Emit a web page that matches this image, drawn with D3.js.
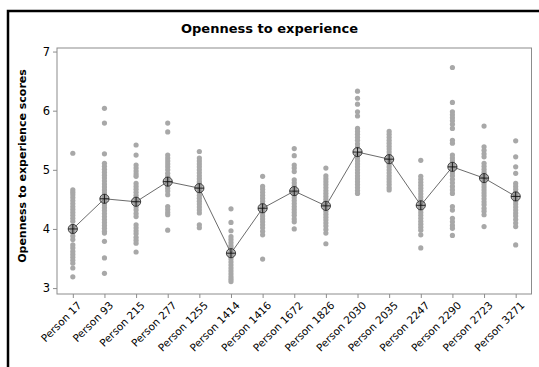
<!DOCTYPE html>
<html>
<head>
<meta charset="utf-8">
<script src="https://cdn.jsdelivr.net/npm/d3@7"></script>
<style>
  html, body { margin: 0; padding: 0; background: #fff; }
  svg { display: block; }
</style>
</head>
<body>
<svg id="chart" width="539" height="367"></svg>
<script>
// Individual openness scores per person, plus each person's mean
const persons = ["Person 17", "Person 93", "Person 215", "Person 277", "Person 1255",
  "Person 1414", "Person 1416", "Person 1672", "Person 1826", "Person 2030",
  "Person 2035", "Person 2247", "Person 2290", "Person 2723", "Person 3271"];

const scoresP17 = [5.28, 4.66, 4.62, 4.58, 4.53, 4.48, 4.43, 4.38, 4.33, 4.28, 4.23, 4.18, 4.13, 4.04, 3.99, 3.94, 3.88, 3.82, 3.73, 3.68, 3.62, 3.57, 3.52, 3.47, 3.42, 3.34, 3.19];
const scoresP93 = [6.04, 5.79, 5.27, 5.11, 5.06, 5.01, 4.96, 4.91, 4.86, 4.81, 4.76, 4.71, 4.66, 4.61, 4.56, 4.51, 4.46, 4.41, 4.36, 4.31, 4.26, 4.21, 4.16, 4.11, 4.06, 4.01, 3.96, 3.93, 3.79, 3.51, 3.25];
const scoresP215 = [5.42, 5.25, 5.08, 5.03, 4.98, 4.93, 4.89, 4.77, 4.72, 4.67, 4.62, 4.57, 4.52, 4.47, 4.42, 4.37, 4.32, 4.26, 4.21, 4.07, 4.02, 3.97, 3.92, 3.86, 3.81, 3.76, 3.61];
const scoresP277 = [5.79, 5.64, 5.25, 5.20, 5.15, 5.10, 5.05, 5.00, 4.94, 4.89, 4.84, 4.79, 4.74, 4.69, 4.64, 4.58, 4.38, 4.33, 4.28, 4.24, 3.98];
const scoresP1255 = [5.31, 5.20, 5.15, 5.10, 5.05, 5.00, 4.95, 4.90, 4.85, 4.80, 4.77, 4.72, 4.67, 4.62, 4.57, 4.52, 4.47, 4.42, 4.37, 4.32, 4.27, 4.07, 4.02];
const scoresP1414 = [4.34, 4.11, 3.97, 3.87, 3.82, 3.77, 3.72, 3.68, 3.59, 3.54, 3.49, 3.44, 3.39, 3.34, 3.29, 3.24, 3.19, 3.15, 3.11];
const scoresP1416 = [4.89, 4.72, 4.67, 4.62, 4.57, 4.52, 4.47, 4.42, 4.37, 4.32, 4.27, 4.22, 4.17, 4.12, 4.07, 4.02, 3.96, 3.90, 3.49];
const scoresP1672 = [5.36, 5.24, 5.08, 5.03, 4.97, 4.83, 4.78, 4.73, 4.68, 4.63, 4.58, 4.53, 4.48, 4.43, 4.38, 4.33, 4.28, 4.23, 4.17, 4.12, 4.00];
const scoresP1826 = [5.03, 4.90, 4.85, 4.80, 4.75, 4.70, 4.65, 4.60, 4.55, 4.50, 4.45, 4.40, 4.35, 4.30, 4.25, 4.20, 4.15, 4.10, 4.05, 3.99, 3.93, 3.75];
const scoresP2030 = [6.33, 6.21, 6.11, 5.98, 5.91, 5.70, 5.65, 5.60, 5.55, 5.50, 5.44, 5.39, 5.25, 5.20, 5.15, 5.10, 5.05, 5.00, 4.95, 4.90, 4.85, 4.80, 4.75, 4.70, 4.65, 4.60];
const scoresP2035 = [5.65, 5.60, 5.55, 5.50, 5.45, 5.40, 5.35, 5.30, 5.25, 5.20, 5.15, 5.10, 5.05, 5.00, 4.95, 4.90, 4.85, 4.80, 4.75, 4.70, 4.66];
const scoresP2247 = [5.16, 4.89, 4.84, 4.79, 4.74, 4.69, 4.64, 4.59, 4.54, 4.49, 4.44, 4.38, 4.33, 4.28, 4.23, 4.18, 4.13, 4.08, 4.03, 3.98, 3.90, 3.68];
const scoresP2290 = [6.73, 6.14, 5.98, 5.93, 5.88, 5.83, 5.77, 5.70, 5.50, 5.45, 5.25, 5.20, 5.15, 5.10, 5.05, 5.00, 4.95, 4.90, 4.84, 4.78, 4.72, 4.66, 4.60, 4.38, 4.32, 4.18, 4.12, 4.06, 4.01, 3.89];
const scoresP2723 = [5.74, 5.39, 5.33, 5.27, 5.22, 5.11, 5.06, 5.01, 4.96, 4.91, 4.86, 4.81, 4.76, 4.71, 4.66, 4.61, 4.56, 4.51, 4.46, 4.41, 4.35, 4.30, 4.24, 4.04];
const scoresP3271 = [5.49, 5.22, 5.05, 4.94, 4.77, 4.72, 4.67, 4.62, 4.57, 4.52, 4.47, 4.42, 4.37, 4.32, 4.27, 4.22, 4.16, 4.10, 4.04, 3.73];

const means = [4.00, 4.51, 4.46, 4.80, 4.69, 3.59, 4.35, 4.64, 4.39, 5.30, 5.18, 4.40, 5.05, 4.86, 4.55];
const yTicks = [3, 4, 5, 6, 7];

const scoreLists = [scoresP17, scoresP93, scoresP215, scoresP277, scoresP1255, scoresP1414,
  scoresP1416, scoresP1672, scoresP1826, scoresP2030, scoresP2035, scoresP2247,
  scoresP2290, scoresP2723, scoresP3271];

const svg = d3.select("#chart");
const font = "'DejaVu Sans', Verdana, sans-serif";

// Plot frame
const plot = { left: 57, right: 531.5, top: 48, bottom: 294 };

const x = d3.scalePoint().domain(persons).range([plot.left, plot.right]).padding(0.5);
const y = d3.scaleLinear().domain([2.9, 7.06]).range([plot.bottom, plot.top]);

// Outer black frame (runs off the right and bottom edges)
svg.append("rect")
  .attr("x", 8).attr("y", 11)
  .attr("width", 560).attr("height", 380)
  .attr("fill", "none").attr("stroke", "#000").attr("stroke-width", 2.5);

// Title
svg.append("text")
  .attr("x", 269.5).attr("y", 33)
  .attr("text-anchor", "middle")
  .attr("font-family", font).attr("font-weight", "bold").attr("font-size", 13)
  .text("Openness to experience");

// Plot border
svg.append("rect")
  .attr("x", plot.left).attr("y", plot.top)
  .attr("width", plot.right - plot.left).attr("height", plot.bottom - plot.top)
  .attr("fill", "none").attr("stroke", "#8c8c8c").attr("stroke-width", 1);

// Y axis
const yAxis = svg.append("g")
  .attr("transform", `translate(${plot.left},0)`)
  .call(d3.axisLeft(y).tickValues(yTicks).tickSize(4).tickPadding(3).tickFormat(d3.format("d")));
yAxis.select(".domain").remove();
yAxis.selectAll("line").attr("stroke", "#8c8c8c");
yAxis.selectAll("text").attr("font-family", font).attr("font-size", 11.5).attr("fill", "#000");

// X axis
const xAxis = svg.append("g")
  .attr("transform", `translate(0,${plot.bottom})`)
  .call(d3.axisBottom(x).tickSize(4));
xAxis.select(".domain").remove();
xAxis.selectAll("line").attr("stroke", "#8c8c8c");
xAxis.selectAll("text")
  .attr("font-family", font).attr("font-size", 10.5).attr("fill", "#000")
  .attr("text-anchor", "end")
  .attr("dy", null)
  .attr("transform", "translate(4,7) rotate(-45)");

// Y axis title
svg.append("text")
  .attr("transform", `translate(26,166) rotate(-90)`)
  .attr("text-anchor", "middle")
  .attr("font-family", font).attr("font-weight", "bold").attr("font-size", 11)
  .text("Openness to experience scores");

// Individual scores
const points = [];
scoreLists.forEach((list, i) => list.forEach(v => points.push({ p: persons[i], v })));
svg.append("g").selectAll("circle")
  .data(points).join("circle")
  .attr("cx", d => x(d.p)).attr("cy", d => y(d.v))
  .attr("r", 2.6)
  .attr("fill", "#a8a8a8");

// Mean connecting line
const meanData = persons.map((p, i) => ({ p, v: means[i] }));
svg.append("path")
  .datum(meanData)
  .attr("fill", "none").attr("stroke", "#5a5a5a").attr("stroke-width", 0.9)
  .attr("d", d3.line().x(d => x(d.p)).y(d => y(d.v)));

// Mean symbols: circle with crosshair
const m = svg.append("g").selectAll("g")
  .data(meanData).join("g")
  .attr("transform", d => `translate(${x(d.p)},${y(d.v)})`);
m.append("circle").attr("r", 4.6)
  .attr("fill", "#8f8f8f").attr("fill-opacity", 0.6)
  .attr("stroke", "#333").attr("stroke-width", 0.9);
m.append("line").attr("x1", -4.6).attr("x2", 4.6).attr("stroke", "#111").attr("stroke-width", 0.9);
m.append("line").attr("y1", -4.6).attr("y2", 4.6).attr("stroke", "#111").attr("stroke-width", 0.9);
</script>
</body>
</html>
